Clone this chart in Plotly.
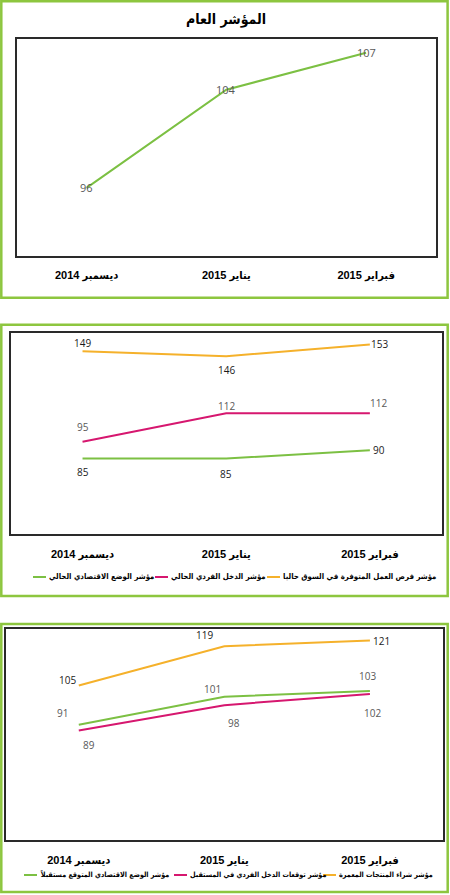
import plotly.graph_objects as go

W, H = 450, 895

# ---------------- data ----------------
months = ["ديسمبر 2014", "يناير 2015", "فبراير 2015"]

title_general = "المؤشر العام"
general_index = [96, 104, 107]

current_names = [
    "مؤشر الوضع الاقتصادي الحالي",
    "مؤشر الدخل الفردي الحالي",
    "مؤشر فرص العمل المتوفرة في السوق حاليا",
]
current_econ = [85, 85, 90]
current_income = [95, 112, 112]
current_jobs = [149, 146, 153]

future_names = [
    "مؤشر الوضع الاقتصادي المتوقع مستقبلاً",
    "مؤشر توقعات الدخل الفردي في المستقبل",
    "مؤشر شراء المنتجات المعمرة",
]
future_econ = [91, 101, 103]
future_income = [89, 98, 102]
future_durables = [105, 119, 121]

# ---------------- styles ----------------
GREEN = "#7CC043"
PINK = "#D6176F"
ORANGE = "#F5B12B"
BORDER = "#8DC63F"
GRAY = "#595959"
BLACK = "#1a1a1a"
AR_FONT = "Liberation Sans, DejaVu Sans Condensed, DejaVu Sans"
LEG_FONT = "DejaVu Sans Condensed, DejaVu Sans"
NUM_FONT = "Open Sans"


def px(x):
    return x / W


def py(y):
    return 1 - y / H


fig = go.Figure()

# panel geometry in pixels (left, right, top, bottom)
boxes = {
    1: (16.7, 436.0, 39.3, 255.5),
    2: (10.7, 441.7, 332.7, 534.0),
    3: (6.0, 442.7, 629.3, 840.0),
}
yranges = {1: [90.5, 108.1], 2: [40, 160], 3: [50, 125]}

series = {
    1: [(general_index, GREEN, "general")],
    2: [(current_econ, GREEN, current_names[0]),
        (current_income, PINK, current_names[1]),
        (current_jobs, ORANGE, current_names[2])],
    3: [(future_econ, GREEN, future_names[0]),
        (future_income, PINK, future_names[1]),
        (future_durables, ORANGE, future_names[2])],
}

layout_axes = {}
for k, (l, r, t, b) in boxes.items():
    xa = "xaxis" if k == 1 else f"xaxis{k}"
    ya = "yaxis" if k == 1 else f"yaxis{k}"
    layout_axes[xa] = dict(
        domain=[px(l), px(r)], anchor=f"y{'' if k == 1 else k}",
        type="category", range=[-0.5, 2.5],
        showline=True, mirror=True, linecolor="#2a2a2a", linewidth=1.5,
        showgrid=False, zeroline=False, ticks="", ticklabelstandoff=9,
        tickfont=dict(family=AR_FONT, size=11, color="#000", weight="bold"),
        fixedrange=True,
    )
    layout_axes[ya] = dict(
        domain=[py(b), py(t)], anchor=f"x{'' if k == 1 else k}",
        range=yranges[k], showline=True, mirror=True, linecolor="#2a2a2a",
        linewidth=1.5, showgrid=False, zeroline=False, showticklabels=False,
        ticks="", fixedrange=True,
    )
    for vals, col, name in series[k]:
        fig.add_trace(go.Scatter(
            x=months, y=vals, mode="lines", name=name,
            line=dict(color=col, width=2),
            xaxis=f"x{'' if k == 1 else k}", yaxis=f"y{'' if k == 1 else k}",
            showlegend=False, hoverinfo="skip",
        ))

fig.update_layout(**layout_axes)

# ---------------- data labels ----------------
# (panel, values, label colour, xshifts, yshifts, font size)
label_specs = [
    (1, general_index, GRAY, [0, 0, 0], [0, 0, 0], 11),
    (2, current_jobs, BLACK, [0, 0, 10], [8, -14, 0], 10),
    (2, current_income, GRAY, [0, 0, 9], [15, 7, 10], 10),
    (2, current_econ, BLACK, [0, 0, 9], [-13, -15, 0], 10),
    (3, future_durables, BLACK, [-11, -20, 12], [5, 11, 0], 10),
    (3, future_econ, GRAY, [-16, -12, -2], [12, 8, 15], 10),
    (3, future_income, GRAY, [10, 10, 3], [-15, -18, -19], 10),
]
annotations = []
for k, vals, col, xs, ys, fs in label_specs:
    suffix = "" if k == 1 else str(k)
    for m, v, dx, dy in zip(months, vals, xs, ys):
        annotations.append(dict(
            x=m, y=v, xref=f"x{suffix}", yref=f"y{suffix}", text=str(v),
            showarrow=False, xshift=dx, yshift=dy,
            font=dict(family=NUM_FONT, size=fs, color=col),
        ))

# title of first panel
annotations.append(dict(
    x=px(226), y=py(19.5), xref="paper", yref="paper", text=title_general,
    showarrow=False, xanchor="center", yanchor="middle",
    font=dict(family=LEG_FONT, size=14, color="#000", weight="bold"),
))

# ---------------- manual legends ----------------
# (row y, font size, [(line x0, line x1, text x, colour, name)])
shapes = []
legend_rows = [
    (576, 7.8, [(33, 46, 47, GREEN, current_names[0]),
                (155, 168, 169, PINK, current_names[1]),
                (267, 280, 281, ORANGE, current_names[2])]),
    (874, 7.2, [(24, 37, 38, GREEN, future_names[0]),
                (174, 187, 188, PINK, future_names[1]),
                (323, 336, 337, ORANGE, future_names[2])]),
]
for yrow, fsize, items in legend_rows:
    for x0, x1, xt, col, name in items:
        shapes.append(dict(type="line", xref="paper", yref="paper",
                           x0=px(x0), x1=px(x1), y0=py(yrow + 1), y1=py(yrow + 1),
                           line=dict(color=col, width=2)))
        annotations.append(dict(
            x=px(xt), y=py(yrow), xref="paper", yref="paper", text=name,
            showarrow=False, xanchor="left", yanchor="middle",
            font=dict(family=LEG_FONT, size=fsize, color="#000", weight="bold"),
        ))

# green panel frames
frames = [(1.3, 447.6, 1.3, 297.8), (1.3, 447.7, 324.7, 596.0), (1.3, 447.7, 624.0, 892.0)]
for l, r, t, b in frames:
    shapes.append(dict(type="rect", xref="paper", yref="paper",
                       x0=px(l), x1=px(r), y0=py(b), y1=py(t),
                       line=dict(color=BORDER, width=2.5), fillcolor="rgba(0,0,0,0)"))

fig.update_layout(
    width=W, height=H,
    margin=dict(l=0, r=0, t=0, b=0, pad=0, autoexpand=False),
    paper_bgcolor="white", plot_bgcolor="white",
    annotations=annotations, shapes=shapes, showlegend=False,
)

fig.write_html(
    "out.html",
    config={"displayModeBar": False},
    post_script="document.body.style.margin='0';document.body.style.overflow='hidden';",
)
